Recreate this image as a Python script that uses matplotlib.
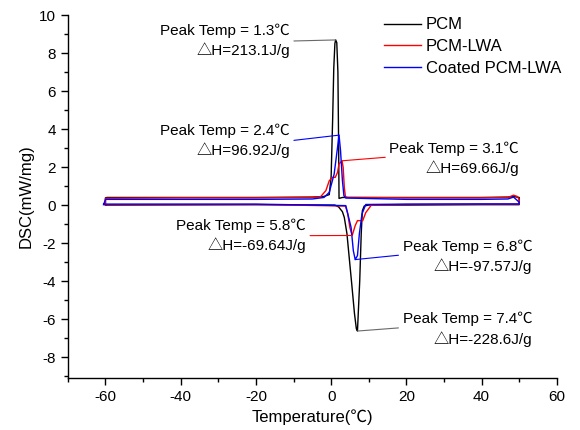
import matplotlib
matplotlib.use('Agg')
import matplotlib.pyplot as plt
from matplotlib.ticker import MultipleLocator

plt.rcParams['font.family'] = ['Liberation Sans', 'Noto Sans CJK SC', 'DejaVu Sans']
plt.rcParams['axes.unicode_minus'] = False

# each curve is a loop, upper branch -60 -> 50, lower branch 50 -> -60
pcm_t = [-60, -60, -59.6, -59, -58, -40, -20, -5, -2, -0.5, 0, 0.4, 0.7, 1.0, 1.2, 1.5, 1.8, 2.0, 2.1,
         3, 20, 40, 47, 48.5, 50, 50, 40, 20, 10, 8.8, 8.3, 8.0, 7.6, 7.0, 6.7, 6.2, 5.5, 4.8, 4.2,
         3.5, 3, 2, 1, -20, -58, -60]
pcm_v = [0.0, 0.38, 0.4, 0.4, 0.4, 0.4, 0.4, 0.42, 0.45, 0.55, 1.5, 4.5, 7.2, 8.5, 8.69, 8.55, 7.0,
         3.0, 0.35, 0.4, 0.4, 0.4, 0.42, 0.45, 0.4, 0.02, 0.02, 0.0, 0.0, -0.05, -0.3, -1.5, -4.0,
         -6.63, -6.5, -5.7, -4.2, -2.75, -1.5, -0.65, -0.35, -0.1, 0.0, 0.02, 0.0, 0.0]

lwa_t = [-60, -60, -40, -20, -5, -2.8, -1.4, -0.5, 0.4, 1.1, 1.7, 2.1, 2.9, 3.2, 3.5, 3.8, 4.4, 20, 40,
         47, 48.5, 49.5, 50, 50, 40, 20, 10.7, 9.2, 8.4, 7.0, 6.4, 5.6, 5.0, 4.4, 3.8, -20, -60]
lwa_v = [0.02, 0.36, 0.38, 0.38, 0.4, 0.44, 0.76, 1.28, 1.46, 1.46, 1.72, 2.16, 2.33, 1.98, 0.93, 0.44,
         0.4, 0.38, 0.38, 0.4, 0.52, 0.45, 0.3, 0.05, 0.05, 0.03, 0.0, -0.4, -0.82, -0.82, -1.08, -1.6,
         -1.2, -0.45, -0.05, 0.03, 0.02]

coated_t = [-60.5, -60, -40, -20, -5, -1.9, -0.5, 0.8, 1.7, 2.1, 2.5, 3.0, 3.4, 3.9, 20, 40, 47, 48.5,
            50, 50, 40, 20, 9.2, 8.2, 7.5, 7.0, 6.4, 5.9, 5.3, 3.9, -20, -60.5]
coated_v = [0.02, 0.3, 0.3, 0.3, 0.32, 0.4, 0.67, 1.63, 3.03, 3.68, 2.86, 1.28, 0.49, 0.37, 0.3, 0.3,
            0.32, 0.42, 0.15, 0.06, 0.06, 0.05, 0.03, -0.47, -1.52, -2.66, -2.87, -2.4, -1.17, -0.03,
            0.05, 0.05]

series = [('PCM', pcm_t, pcm_v, 'black'),
          ('PCM-LWA', lwa_t, lwa_v, 'red'),
          ('Coated PCM-LWA', coated_t, coated_v, 'blue')]

# (peak xy, text xy, label, colour, side)
notes = [((1.2, 8.69), (-11.0, 8.63), 'Peak Temp = 1.3\u2103\n\u25b3H=213.1J/g', 'dimgray', 'left'),
         ((2.1, 3.68), (-11.0, 3.38), 'Peak Temp = 2.4\u2103\n\u25b3H=96.92J/g', 'blue', 'left'),
         ((2.9, 2.33), (15.5, 2.44), 'Peak Temp = 3.1\u2103\n\u25b3H=69.66J/g', 'red', 'right'),
         ((5.6, -1.6), (-6.7, -1.61), 'Peak Temp = 5.8\u2103\n\u25b3H=-69.64J/g', 'red', 'left'),
         ((6.4, -2.87), (19.0, -2.71), 'Peak Temp = 6.8\u2103\n\u25b3H=-97.57J/g', 'blue', 'right'),
         ((7.0, -6.63), (19.0, -6.54), 'Peak Temp = 7.4\u2103\n\u25b3H=-228.6J/g', 'dimgray', 'right')]

fig = plt.figure(figsize=(5.8, 4.3), dpi=100)
ax = fig.add_axes([0.117, 0.121, 0.843, 0.844])

for name, t, v, c in series:
    ax.plot(t, v, color=c, lw=1.0, label=name)

for xy, xyt, txt, c, side in notes:
    if side == 'left':
        ha, rel = 'right', (1, 0.5)
    else:
        ha, rel = 'left', (0, 0.55)
    ax.annotate(txt, xy=xy, xytext=xyt, ha=ha, va='center', multialignment='right',
                fontsize=11, linespacing=1.35,
                arrowprops=dict(arrowstyle='-', color=c, lw=0.8, relpos=rel,
                                shrinkA=1, shrinkB=0))

ax.set_xlim(-70, 60)
ax.set_ylim(-9.1, 10)
ax.xaxis.set_major_locator(MultipleLocator(20))
ax.xaxis.set_minor_locator(MultipleLocator(10))
ax.yaxis.set_major_locator(MultipleLocator(2))
ax.yaxis.set_minor_locator(MultipleLocator(1))
ax.tick_params(which='major', direction='out', length=5, width=1, labelsize=11)
ax.tick_params(which='minor', direction='out', length=3, width=1)
for s in ['top', 'right']:
    ax.spines[s].set_visible(False)
for s in ['left', 'bottom']:
    ax.spines[s].set_linewidth(1.0)

ax.set_xlabel('Temperature(\u2103)', fontsize=12)
ax.set_ylabel('DSC(mW/mg)', fontsize=12)

ax.legend(loc='upper right', bbox_to_anchor=(1.04, 1.035), frameon=False, fontsize=12,
          handlelength=2.2, handletextpad=0.3, labelspacing=0.4)

fig.savefig('out.png', dpi=100)
